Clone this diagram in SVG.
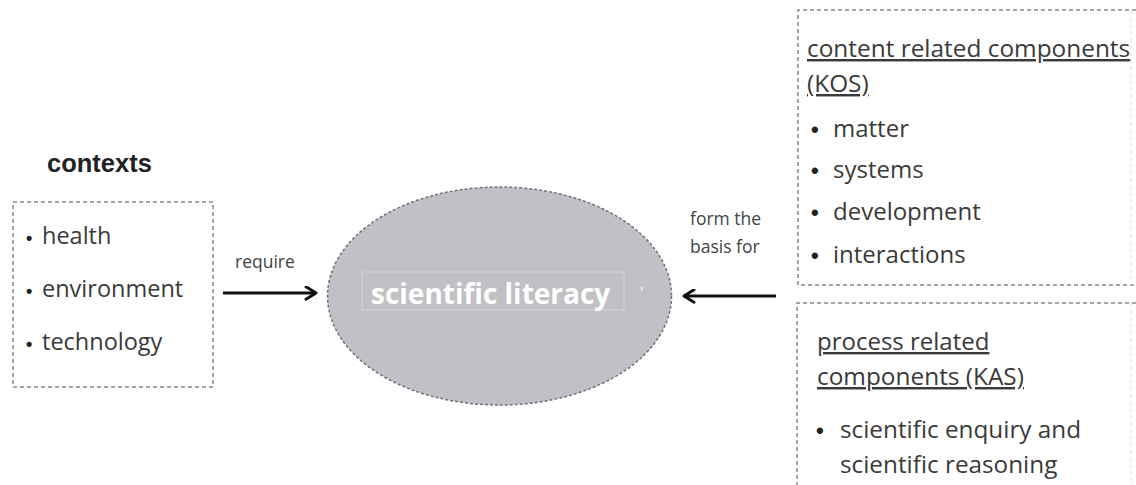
<svg xmlns="http://www.w3.org/2000/svg" width="1136" height="485" viewBox="0 0 1136 485">
<defs>
<style>
.box{fill:none;stroke:#8a8a8a;stroke-width:1.5;stroke-dasharray:4 3}
.faint{fill:none;stroke:#e6e6e6;stroke-width:1.2;stroke-dasharray:4 3}
.t{font-family:"Open Sans","Liberation Sans",sans-serif;font-size:24px;fill:#3a3a3a}
.tl{font-family:"Open Sans","Liberation Sans",sans-serif;font-size:23.5px;fill:#3a3a3a}
.b{font-family:"Liberation Sans",Arial,sans-serif;font-weight:bold;font-size:22px;fill:#222}
.bl{font-family:"Liberation Sans",Arial,sans-serif;font-weight:bold;font-size:18px;fill:#222}
.s{font-family:"Open Sans","Liberation Sans",sans-serif;font-size:17.5px;fill:#444}
.u{text-decoration:underline}
.conn{stroke:#111;stroke-width:3;fill:none}
</style>
<marker id="arr" viewBox="0 0 12 12" refX="10" refY="6" markerWidth="5" markerHeight="5" markerUnits="strokeWidth" orient="auto">
<path d="M2,1 L10,6 L2,11" fill="none" stroke="#111" stroke-width="2.4" stroke-linecap="round" stroke-linejoin="round"/>
</marker>
</defs>
<rect width="1136" height="485" fill="#fff"/>

<g id="contexts">
<text x="47" y="172" font-family="'Liberation Sans',Arial,sans-serif" font-weight="bold" font-size="25.5" fill="#222">contexts</text>
<rect class="box" x="13" y="202" width="200" height="185"/>
<text class="bl" x="26" y="244">•</text>
<text class="tl" x="42" y="244">health</text>
<text class="bl" x="26" y="297">•</text>
<text class="tl" x="42" y="297">environment</text>
<text class="bl" x="26" y="350">•</text>
<text class="tl" x="42" y="350">technology</text>
</g>

<g id="literacy">
<ellipse cx="499.5" cy="296" rx="172" ry="109" fill="#c1c0c5" stroke="#6f7080" stroke-width="1.5" stroke-dasharray="3 2"/>
<rect x="362" y="272" width="262" height="38" fill="none" stroke="#d4d3d8" stroke-width="1"/>
<text x="371" y="304" font-family="'Open Sans','Liberation Sans',sans-serif" font-weight="bold" font-size="28" fill="#fff">scientific literacy</text>
<text x="640" y="297" font-family="'Open Sans','Liberation Sans',sans-serif" font-size="15" fill="#fff">'</text>
</g>

<g id="kos">
<path class="box" d="M1136,10 H798 V285 H1136"/>
<line class="faint" x1="1131" y1="10" x2="1131" y2="285"/>
<text class="t u" x="807" y="57" style="font-size:24.4px">content related components</text>
<text class="t u" x="807" y="92" style="font-size:24.4px">(KOS)</text>
<text class="b" x="811" y="137">•</text>
<text class="t" x="833" y="137">matter</text>
<text class="b" x="811" y="178">•</text>
<text class="t" x="833" y="178">systems</text>
<text class="b" x="811" y="220">•</text>
<text class="t" x="833" y="220">development</text>
<text class="b" x="811" y="263">•</text>
<text class="t" x="833" y="263">interactions</text>
</g>

<g id="kas">
<path class="box" d="M1136,303 H797 V485"/>
<line class="faint" x1="1131" y1="303" x2="1131" y2="485"/>
<text class="t u" x="817" y="350">process related</text>
<text class="t u" x="817" y="385" style="font-size:24.4px">components (KAS)</text>
<text class="b" x="816" y="438">•</text>
<text class="t" x="840" y="438" style="font-size:24.3px">scientific enquiry and</text>
<text class="t" x="840" y="473" style="font-size:24.3px">scientific reasoning</text>
</g>

<g id="connectors">
<line class="conn" x1="223" y1="293" x2="316" y2="293" marker-end="url(#arr)"/>
<text class="s" x="235" y="268">require</text>
<line class="conn" x1="776" y1="296" x2="684" y2="296" marker-end="url(#arr)"/>
<text class="s" x="690" y="225">form the</text>
<text class="s" x="690" y="253">basis for</text>
</g>
</svg>
